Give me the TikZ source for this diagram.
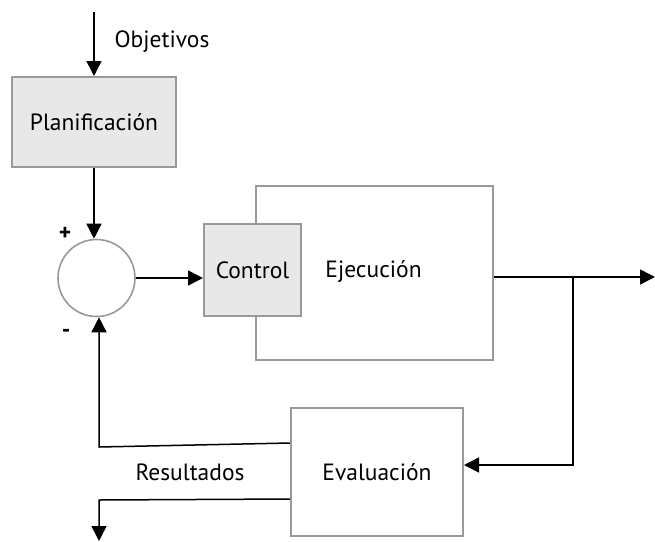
\documentclass[tikz,border=0pt]{standalone}
\usepackage{fontspec}
\setmainfont{PT Sans}
\usetikzlibrary{arrows.meta}
\definecolor{boxfill}{HTML}{E8E8E8}
\definecolor{boxline}{HTML}{999999}
\begin{document}
\begin{tikzpicture}[x=1pt,y=-1pt,
  every node/.style={font=\fontsize{23.5}{26}\selectfont, inner sep=0pt},
  block/.style={draw=boxline, line width=2pt, rectangle},
  greyblock/.style={block, fill=boxfill},
  wire/.style={draw=black, line width=1.5pt},
  arr/.style={wire, -{Triangle[length=15pt,width=15pt]}},
  lbl/.style={text=black}]
\useasboundingbox (0,0) rectangle (655,541);

% blocks
\node[greyblock, minimum width=164pt, minimum height=90pt] (plan) at (94,122) {Planificación};
\node[block, fill=white, minimum width=237pt, minimum height=174pt] (ejec) at (374.5,273) {};
\node[lbl] (ejectxt) at (373.5,272) {Ejecución};
\node[greyblock, minimum width=97pt, minimum height=92pt] (ctrl) at (252.5,270) {Control};
\node[block, minimum width=172pt, minimum height=128pt] (eval) at (377,472) {};
\node[lbl] (evaltxt) at (377,472) {Evaluación};
\node[draw=boxline, line width=1.6pt, circle, minimum size=77pt] (sum) at (96.5,278) {};

% labels
\node[lbl] (obj) at (162,42) {Objetivos};
\node[lbl] (res) at (190,472) {Resultados};
\node[lbl] (plus) at (65,234) {\textbf{+}};
\node[lbl] (minus) at (66,333) {\textbf{-}};

% connector end points
\coordinate (topin) at (94,12);
\coordinate (out) at (655,277);
\coordinate (br) at (573,277);
\coordinate (evin) at ([yshift=7pt]eval.east);
\coordinate (fbout) at ([yshift=29pt]eval.west);
\coordinate (rsout) at ([yshift=-27pt]eval.west);
\coordinate (fb) at (99,447);
\coordinate (rs) at (99,500);
\coordinate (rsend) at (99,541);

% connectors
\draw[arr] (topin) -- (plan.north);
\draw[arr] (plan.south) -- (plan.south |- sum.north);
\draw[arr] (sum.east) -- (sum.east -| ctrl.west);
\draw[arr] (out -| ejec.east) -- (out);
\draw[arr] (br) -- (br |- evin) -- (evin);
\draw[arr] (fbout) -- (fb) -- (fb |- sum.south);
\draw[arr] (rsout) -- (rs) -- (rsend);
\end{tikzpicture}
\end{document}
